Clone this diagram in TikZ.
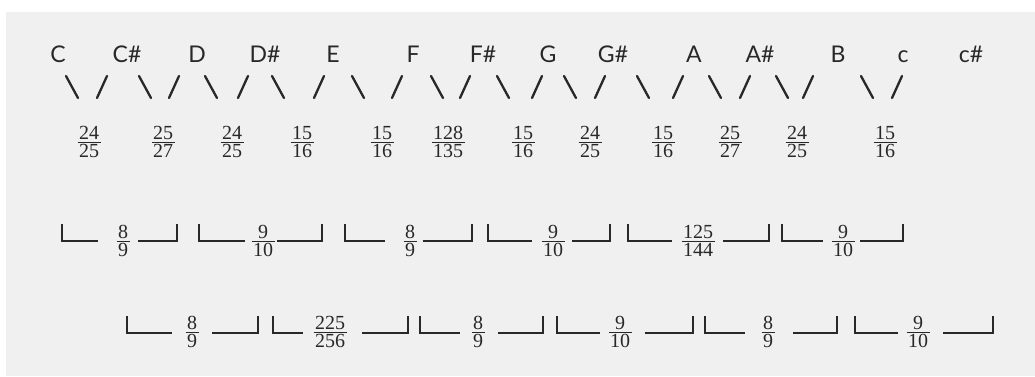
\documentclass[tikz,border=0pt]{standalone}
\usepackage{fontspec}
\setmainfont{Liberation Serif}
\newfontfamily\notefont{Lato}
\definecolor{page}{RGB}{240,240,240}
\definecolor{ink}{RGB}{40,40,40}
\newcommand\fr[2]{{\setlength\arrayrulewidth{1pt}\setlength\tabcolsep{1.5pt}\renewcommand\arraystretch{0}%
  \begin{tabular}{c}\rule[-2.5pt]{0pt}{14pt}#1\\\hline\rule[-1pt]{0pt}{15.5pt}#2\end{tabular}}}
\tikzset{
  note/.style={anchor=base, inner sep=0pt, text=ink, font=\notefont\fontsize{23}{26}\selectfont},
  frc/.style={inner sep=0pt, text=ink, font=\fontsize{20}{20}\selectfont},
  sl/.style={draw=ink, line width=2.3pt, line cap=round},
  br/.style={draw=ink, line width=1.8pt}
}
\begin{document}
\begin{tikzpicture}[x=1pt,y=-1pt]
\useasboundingbox (0,0) rectangle (1035,376);
\fill[white] (0,0) rectangle (1035,376);
\fill[page] (6,12) rectangle (1035,376);
% note names
\foreach \x/\t [count=\i] in {58/C,127/C\#,197/D,265/D\#,333/E,413/F,483/F\#,548/G,613/G\#,694/A,760/A\#,838/B,903/c,971/c\#}
  \node[note] (n\i) at (\x,62) {\t};
% slashes
\foreach \a/\b [count=\i] in {72/102,145/174,211/243,278/319,358/397,437/465,503/537,570/600,643/678,715/745,782/808,867/897}
{
  \draw[sl] (\a-6,76) -- (\a+6,98);
  \draw[sl] (\b+5,76) -- (\b-5,98);
}
% first row of fractions
\foreach \x/\n/\d [count=\i] in {89/24/25,163/25/27,232/24/25,302/15/16,382/15/16,448/128/135,523/15/16,590/24/25,663/15/16,730/25/27,797/24/25,885/15/16}
  \node[frc] (f\i) at (\x,142) {\fr{\n}{\d}};
% second row
\foreach \a/\b/\c/\d/\e/\n/\m [count=\i] in {62/98/123/138/177/8/9,199/245/263/277/322/9/10,345/385/410/423/472/8/9,488/532/553/572/610/9/10,628/672/698/723/769/125/144,782/823/843/860/903/9/10}
{
  \node[frc] (g\i) at (\c,241) {\fr{\n}{\m}};
  \draw[br] (\a,224) -- (\a,241) -- (\b,241);
  \draw[br] (\d,241) -- (\e,241) -- (\e,224);
}
% third row
\foreach \a/\b/\c/\d/\e/\n/\m [count=\i] in {127/172/192/212/258/8/9,273/303/330/362/408/225/256,420/460/478/498/543/8/9,557/600/620/645/693/9/10,705/745/768/793/837/8/9,855/898/918/943/993/9/10}
{
  \node[frc] (h\i) at (\c,332) {\fr{\n}{\m}};
  \draw[br] (\a,316) -- (\a,333) -- (\b,333);
  \draw[br] (\d,333) -- (\e,333) -- (\e,316);
}
\end{tikzpicture}
\end{document}
